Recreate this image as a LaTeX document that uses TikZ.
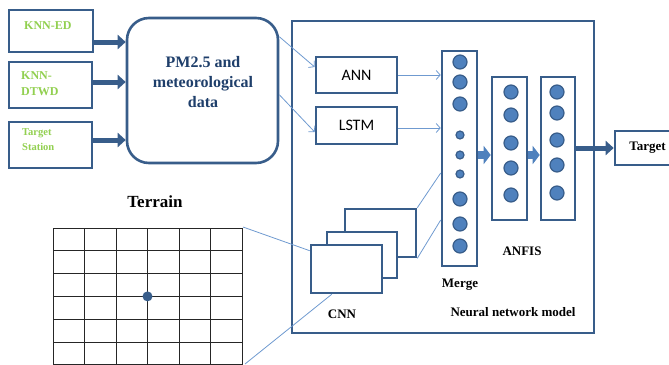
\documentclass[tikz,border=0pt]{standalone}
\usepackage{fontspec}
\setmainfont{Liberation Serif}
\newfontfamily\calib{Carlito}
\usetikzlibrary{arrows.meta,calc}
\definecolor{boxblue}{HTML}{385D8A}
\definecolor{dotblue}{HTML}{4F81BD}
\definecolor{linkblue}{HTML}{6F9AD0}
\definecolor{knngreen}{HTML}{92D050}
\definecolor{pmtext}{HTML}{1F3F6B}

\begin{document}
\begin{tikzpicture}[x=1pt,y=-1pt,
	box/.style={draw=boxblue,line width=2.6pt,fill=white,inner sep=0pt},
	unit/.style={circle,draw=boxblue,line width=1.2pt,fill=dotblue,minimum size=14pt,inner sep=0pt},
	smallunit/.style={unit,minimum size=8pt},
	fat/.style={draw=boxblue,line width=5pt,-{Triangle[length=8pt,width=14pt]}},
	block/.style={draw=dotblue,line width=8pt,-{Triangle[length=7pt,width=18pt]}},
	thin/.style={draw=linkblue,line width=0.8pt,-{Straight Barb[length=4pt,width=9pt]}},
	thinline/.style={draw=linkblue,line width=0.8pt},
	gridline/.style={draw=black!85,line width=1pt},
	lbl/.style={font=\bfseries\fontsize{13}{14}\selectfont,inner sep=0pt},
	knnlbl/.style={text=knngreen,font=\bfseries\fontsize{12}{16}\selectfont,align=left,inner sep=0pt}
	]
	\useasboundingbox (0,0) rectangle (669,364);
	\clip (0,0) rectangle (669,364);
	
	% Inputs
	\node[box,minimum width=84pt,minimum height=42pt] (ked) at (51,31) {};
	\node[box,minimum width=83pt,minimum height=46pt] (kdtwd) at (50.5,85) {};
	\node[box,minimum width=83pt,minimum height=46pt] (tst) at (50.5,145) {};
	\node[knnlbl,anchor=base west] (kedt) at (24,29) {KNN-ED};
	\node[knnlbl,anchor=north west] (kdtwdt) at (21,71) {KNN-\\DTWD};
	\node[knnlbl,anchor=north west,font=\bfseries\fontsize{10.5}{15}\selectfont] (tstt) at (22,128) {Target\\Station};
	
	% Data
	\node[box,rounded corners=22pt,minimum width=151pt,minimum height=145pt] (pm) at (202.5,90.5) {};
	\node[text=pmtext,font=\bfseries\fontsize{16}{20}\selectfont,align=center] (pmt) at (203,82) {PM2.5 and\\meteorological\\data};
	
	% Inputs to Data
	\draw[fat] ($(ked.east)+(0,11)$) coordinate (a1) -- (a1 -| pm.west);
	\draw[fat] ($(kdtwd.east)+(0,-3)$) coordinate (a2) -- (a2 -| pm.west);
	\draw[fat] ($(tst.east)+(0,-5)$) coordinate (a3) -- (a3 -| pm.west);
	
	% Model
	\node[box,fill=none,minimum width=302pt,minimum height=312pt] (nn) at (443,177) {};
	\node[box,minimum width=81pt,minimum height=36pt,font=\calib\fontsize{16}{18}\selectfont] (ann) at (356.5,75) {ANN};
	\node[box,minimum width=81pt,minimum height=37pt,font=\calib\fontsize{16}{18}\selectfont] (lstm) at (356.5,125.5) {LSTM};
	\draw[thin] ($(pm.north east)+(0,20)$) -- ($(ann.west)+(0,-8)$);
	\draw[thin] ($(pm.north east)+(0,78)$) -- ($(lstm.west)+(0,6.5)$);
	
	% Merge
	\node[box,minimum width=35pt,minimum height=215pt] (merge) at (459.5,158.5) {};
	\foreach \y in {62,82,104,199,224,246}
		\node[unit] (m\y) at (460,\y) {};
	\foreach \y in {135,155,174}
		\node[smallunit] (s\y) at (460,\y) {};
	\draw[thin] (ann.east) -- (ann.east -| merge.west);
	\draw[thin] ($(lstm.east)+(0,2.5)$) coordinate (b1) -- (b1 -| merge.west);
	
	% ANFIS
	\node[box,minimum width=35pt,minimum height=143pt] (anfa) at (509.5,148.5) {};
	\node[box,minimum width=34pt,minimum height=143pt] (anfb) at (558,148.5) {};
	\foreach \y in {92,115,143,168,195}
		\node[unit] (fa\y) at (511,\y) {};
	\foreach \y in {92,113,140,165,193}
		\node[unit] (fb\y) at (557,\y) {};
	\draw[block] (merge.east |- 0,155) -- (anfa.west |- 0,155);
	\draw[block] (anfa.east |- 0,155) -- (anfb.west |- 0,155);
	
	% Output
	\node[box,minimum width=65pt,minimum height=34pt,lbl] (target) at (647.5,148) {Target};
	\draw[fat] (anfb.east |- target.west) -- (target.west);
	
	% CNN
	\node[box,minimum width=71pt,minimum height=48pt] (cnnc) at (380.5,233) {};
	\node[box,minimum width=70pt,minimum height=46pt] (cnnb) at (362,255) {};
	\node[box,minimum width=71pt,minimum height=48pt] (cnna) at (346.5,269) {};
	\draw[thinline] (cnnc.north east) -- ($(merge.west)+(0,14.5)$);
	\draw[thinline] (cnnc.south east) -- ($(merge.west)+(0,61.5)$);
	
	% Terrain
	\foreach \i in {0,...,6}
		\draw[gridline] (53+31.5*\i,228) -- (53+31.5*\i,372);
	\foreach \j in {0,...,6}
		\draw[gridline] (53,228+22.8*\j) -- (242,228+22.8*\j);
	\node[circle,fill=boxblue,minimum size=10pt,inner sep=0pt] (site) at (147.5,296.4) {};
	\coordinate (gtr) at (243,227);
	\coordinate (gbr) at (245,364);
	\draw[thinline] (gtr) -- ($(cnna.north west)+(0,7)$);
	\draw[thinline] (gbr) -- ($(cnna.south west)+(22,0)$);
	
	% Labels
	\node[lbl,font=\bfseries\fontsize{17}{18}\selectfont] (terrain) at (155,202) {Terrain};
	\node[lbl] (cnnl) at (342,314) {CNN};
	\node[lbl] (mergel) at (460,285) {Merge};
	\node[lbl] (anfisl) at (522,251) {ANFIS};
	\node[lbl] (nnl) at (513,312) {Neural network model};
\end{tikzpicture}
\end{document}
